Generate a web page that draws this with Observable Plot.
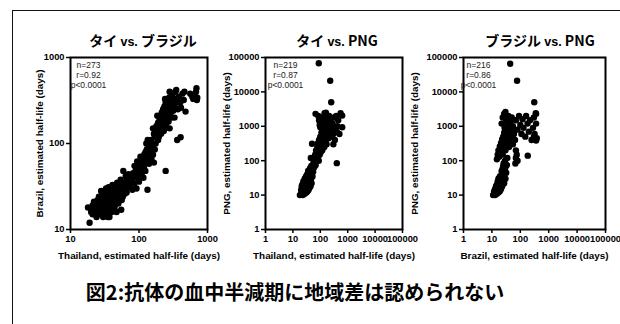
<!DOCTYPE html>
<html><head><meta charset="utf-8">
<script src="https://cdn.jsdelivr.net/npm/d3@7"></script>
<script src="https://cdn.jsdelivr.net/npm/@observablehq/plot@0.6"></script>
<style>
html,body{margin:0;padding:0;background:#fff;}
#wrap{position:relative;width:620px;height:324px;overflow:hidden;background:#fff;}
#border{position:absolute;left:12px;top:10px;width:700px;height:400px;border-left:1.5px solid #111;border-top:1.5px solid #111;}
.panel{position:absolute;top:0;}
.panel svg{background:transparent !important;overflow:visible;}
.title{position:absolute;transform:translate(-50%,-50%);white-space:nowrap;font-family:"Noto Sans CJK JP",sans-serif;font-weight:700;font-size:14px;color:#000;}
.title .vs{font-family:"Liberation Sans",Arial,sans-serif;font-size:12.5px;}
#caption{position:absolute;left:295px;top:291px;transform:translate(-50%,-50%);white-space:nowrap;font-family:"Noto Sans CJK JP",sans-serif;font-weight:700;font-size:20px;color:#000;}
</style></head>
<body><div id="wrap"><div id="border"></div></div>
<script>
// ---- data (estimated half-life, days) ----
const titles = ["タイ vs. ブラジル", "タイ vs. PNG", "ブラジル vs. PNG"];
const xLabels = ["Thailand, estimated half-life (days)", "Thailand, estimated half-life (days)", "Brazil, estimated half-life (days)"];
const yLabels = ["Brazil, estimated half-life (days)", "PNG, estimated half-life (days)", "PNG, estimated half-life (days)"];
const stats = ["n=273\nr=0.92\np<0.0001", "n=219\nr=0.87\np<0.0001", "n=216\nr=0.86\np<0.0001"];
const caption = "図2:抗体の血中半減期に地域差は認められない";
const ticksSmall = [10, 100, 1000];
const ticksLarge = [1, 10, 100, 1000, 10000, 100000];

// Thailand (x) vs Brazil (y)
const thaiBrazil = [
[19,12],[18,18],[20,16],[21,19],[22,17],[22,21],[23,15],[24,18],[24,20],[25,17],[25,22],[26,16],[26,19],[27,18],[27,21],[28,20],[28,24],[29,17],[29,19],[30,22],[30,18],[31,16],[31,25],[32,20],[32,23],[33,18],[33,21],[34,19],[34,26],[35,22],[35,17],[36,24],[36,20],[37,28],[37,18],[38,22],[38,25],[39,20],[40,23],[40,27],[41,19],[42,25],[42,30],[43,22],[44,26],[45,20],[45,29],[46,24],[47,27],[48,22],[48,31],[50,25],[50,28],[52,30],[52,23],[54,27],[55,32],[56,26],[58,30],[58,24],[60,28],[60,33],[35,14],[30,14],[40,16],[27,15],[44,18],[50,20],[37,14],[59,48],[23,19],[26,24],[31,20],[39,24],[46,21],[53,26],[57,35],
[21,15],[24,14],[29,27],[33,30],[36,31],[41,33],[44,32],[48,35],[51,34],[54,38],[56,22],[62,26],[64,42],[66,27],[70,44],[55,17],[47,16],[34,16],[28,28],
[62,35],[65,30],[66,38],[68,33],[70,36],[72,40],[72,31],[75,38],[76,34],[78,42],[80,37],[82,45],[84,40],[85,34],[88,44],[90,50],[92,42],[95,48],[96,55],[98,40],[100,52],[102,46],[104,60],[106,50],[108,65],[110,56],[112,48],[115,70],[118,62],[120,75],[122,58],[125,80],[128,68],[130,85],[132,72],[135,62],[138,90],[140,78],[145,70],[148,95],[150,82],[133,29],[245,48],[105,70],[92,30],[80,29],[116,40],
[86,55],[94,62],[100,36],[110,42],[118,52],[124,48],[128,100],[134,110],[140,58],[152,66],[160,74],[165,60],[158,90],[170,85],
[147,90],[150,110],[158,100],[165,130],[170,120],[175,145],[180,160],[185,135],[190,175],[195,150],[200,190],[205,170],[210,210],[215,230],[220,200],[225,250],[230,190],[235,270],[240,230],[245,300],[250,260],[255,210],[260,320],[265,280],[270,240],[275,340],[280,300],[290,350],[300,260],[310,380],[320,330],[330,280],[340,400],[350,420],[360,300],[370,250],[361,110],[405,118],[478,235],[400,300],[430,380],[300,200],[270,180],[240,150],[210,130],[190,110],[175,100],
[160,150],[185,210],[195,120],[215,160],[230,140],[250,170],[260,200],[280,150],[290,230],[315,240],[330,200],[345,330],[380,350],[410,260],[450,320],[460,400],[280,400],[240,330],
[560,380],[600,350],[620,330],[650,360],[680,400],[690,440],[700,320],[710,340]
];

// Thailand (x) vs PNG (y)
const thaiPNG = [
[18,10],[20,11],[20,14],[21,18],[22,12],[22,20],[23,10],[24,15],[24,25],[25,12],[25,18],[26,22],[26,14],[27,30],[27,11],[28,16],[28,20],[29,13],[29,26],[30,35],[30,18],[31,12],[31,22],[32,15],[32,28],[33,40],[33,19],[34,13],[34,24],[35,30],[35,17],[36,50],[36,22],[37,14],[37,35],[38,26],[38,19],[39,45],[40,16],[40,30],[41,22],[42,60],[42,38],[43,25],[44,18],[45,45],[46,30],[47,70],[48,22],[48,40],[50,55],[52,35],[55,80],[55,48],[58,100],[60,65],
[60,120],[62,90],[65,150],[68,75],[70,200],[72,110],[75,160],[78,250],[80,130],[82,320],[85,180],[88,100],[90,400],[92,220],[95,150],[98,300],[100,500],[102,250],[105,180],[108,400],[110,650],[115,300],[118,200],[120,800],[125,450],[130,350],[135,600],[140,250],[145,900],[150,500],[155,700],[160,400],[165,1000],[170,300],[180,600],[190,800],[200,450],[50,310],[45,120],
[67,2300],[85,2000],[90,1500],[95,1100],[100,940],[110,1300],[120,1800],[130,1000],[143,2400],[150,1400],[160,2500],[170,1200],[180,1700],[190,900],[200,1300],[210,2000],[220,700],[230,1100],[240,1600],[250,500],[260,800],[280,1200],[300,600],[320,1800],[350,900],[380,2000],[400,700],[420,1000],[450,1500],[500,600],[550,2400],[630,940],[630,2050],[340,400],[300,300],
[88,68000],[230,21000],[250,5000],[400,85]
];

// Brazil (x) vs PNG (y)
const brazilPNG = [
[11,10],[12,11],[13,10],[12,13],[14,12],[13,15],[15,11],[14,18],[16,14],[15,20],[17,12],[16,25],[18,16],[17,30],[19,13],[18,22],[20,18],[19,35],[21,15],[20,28],[22,40],[21,20],[23,25],[22,50],[24,32],[23,18],[25,45],[24,60],[26,28],[25,70],[27,38],[26,85],[28,55],[27,22],[30,65],[29,100],[32,45],[30,30],[34,75],[35,120],
[15,110],[16,150],[17,200],[18,130],[19,260],[20,170],[21,330],[22,220],[23,420],[24,150],[25,500],[26,280],[27,650],[28,380],[30,200],[32,550],[34,300],[36,800],[38,450],[40,250],[42,600],[45,350],[48,900],[50,500],[55,300],[60,700],[65,400],[70,200],[75,150],[80,100],[70,120],[67,83],[183,140],
[22,1200],[24,1800],[27,2300],[28,900],[29,940],[30,2600],[32,1500],[35,1100],[38,2000],[40,800],[45,1300],[50,1800],[55,1000],[60,600],[70,1500],[80,800],[90,2000],[100,1100],[110,600],[120,1600],[130,900],[150,500],[160,2000],[180,1200],[200,700],[220,1500],[250,400],[280,900],[300,1800],[320,600],[350,2400],[360,1200],[380,450],[300,500],[360,2300],[360,385],
[44,66000],[77,21000],[310,5000]
];

const panels = [
  {data: thaiBrazil, dom: [10, 1000], ticks: ticksSmall, left: 0, width: 215, ml: 70, mr: 8, yOff: 35, statDx: 18, titleX: 143},
  {data: thaiPNG, dom: [1, 100000], ticks: ticksLarge, left: 200, width: 210, ml: 65, mr: 8, yOff: 43, statDx: 20, titleX: 337},
  {data: brazilPNG, dom: [1, 100000], ticks: ticksLarge, left: 405, width: 215, ml: 58, mr: 15, yOff: 53, statDx: 15, titleX: 540}
];

const wrap = document.getElementById("wrap");
panels.forEach((p, i) => {
  const chart = Plot.plot({
    width: p.width, height: 270,
    marginLeft: p.ml, marginRight: p.mr, marginTop: 57, marginBottom: 41,
    style: {fontFamily: "'Liberation Sans', Arial, sans-serif", fontSize: "9.9px", fontWeight: "bold", background: "transparent", color: "#000", overflow: "visible"},
    x: {type: "log", domain: p.dom},
    y: {type: "log", domain: p.dom},
    marks: [
      Plot.dot(p.data, {x: d => d[0], y: d => d[1], r: 3.2, fill: "#000", stroke: "none"}),
      Plot.axisX({ticks: p.ticks, tickFormat: d => String(d), tickSize: 4, tickPadding: 2, strokeWidth: 1.5, fontSize: 9.3,
        label: null}),
      Plot.axisX({ticks: [], label: xLabels[i], labelAnchor: "center", labelOffset: 29, labelArrow: "none", fontSize: 9.9}),
      Plot.axisY({ticks: p.ticks, tickFormat: d => String(d), tickSize: 4, tickPadding: 2, strokeWidth: 1.5, fontSize: 9.3,
        label: null}),
      Plot.axisY({ticks: [], label: yLabels[i], labelAnchor: "center", labelOffset: p.yOff, labelArrow: "none", fontSize: 9.9}),
      Plot.frame({stroke: "#000", strokeWidth: 2}),
      Plot.text([stats[i]], {text: d => d, frameAnchor: "top-left", dx: p.statDx, dy: 3, textAnchor: "middle", lineAnchor: "top",
        fontSize: 8.5, fontWeight: "normal", lineHeight: 1.2, fill: "#222"})
    ]
  });
  const div = document.createElement("div");
  div.className = "panel";
  div.style.left = p.left + "px";
  div.appendChild(chart);
  wrap.appendChild(div);
  const t = document.createElement("div");
  t.className = "title";
  t.style.left = p.titleX + "px";
  t.style.top = "40px";
  const parts = titles[i].split(" vs. ");
  t.append(parts[0] + " ");
  const vs = document.createElement("span"); vs.className = "vs"; vs.textContent = "vs.";
  t.appendChild(vs);
  t.append(" " + parts[1]);
  wrap.appendChild(t);
});
const cap = document.createElement("div");
cap.id = "caption";
cap.textContent = caption;
wrap.appendChild(cap);
</script>
</body></html>
